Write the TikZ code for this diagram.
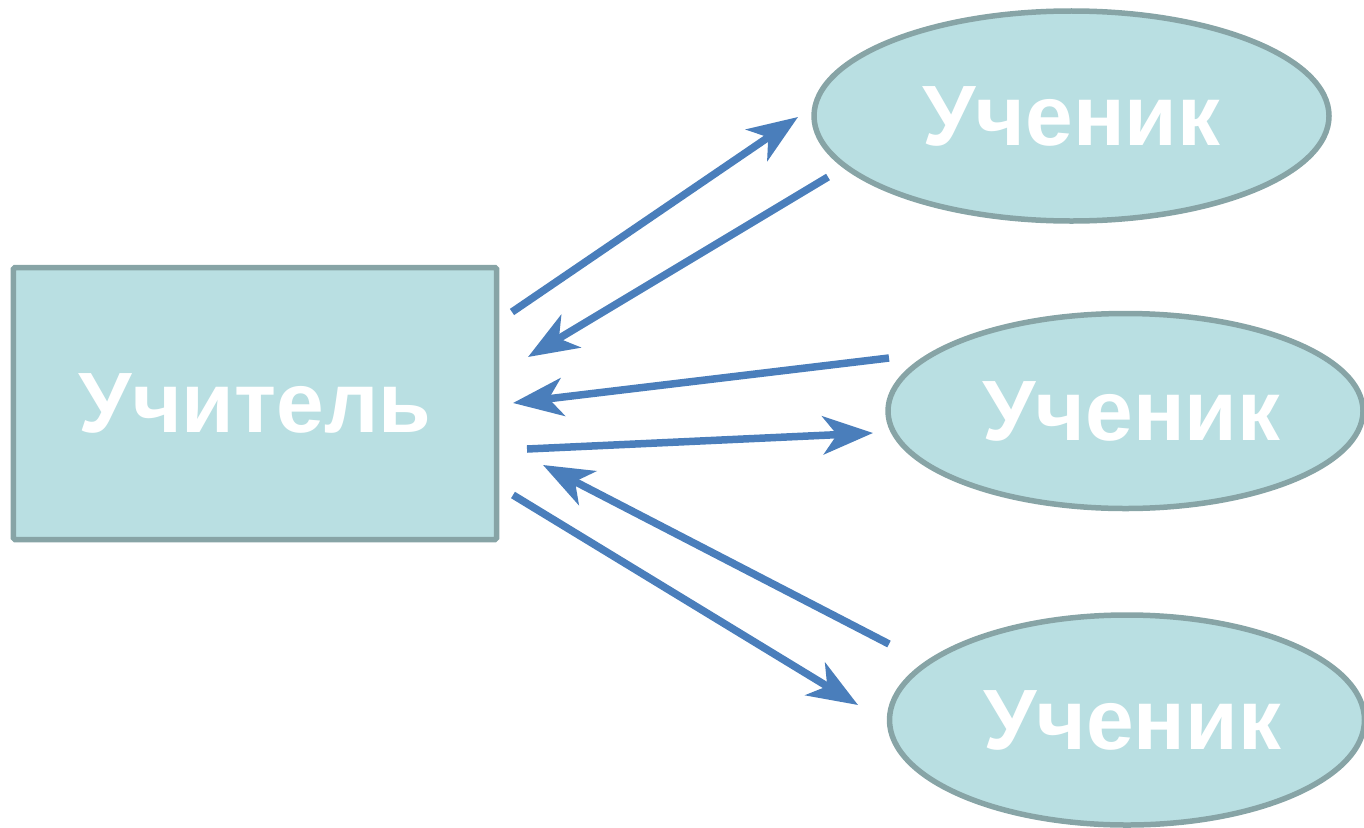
\documentclass[tikz,border=0pt]{standalone}
\usepackage{fontspec}
\setmainfont{Liberation Sans}
\usetikzlibrary{shapes.geometric,arrows.meta}
\definecolor{boxfill}{HTML}{B9DFE2}
\definecolor{boxline}{HTML}{87A4A6}
\definecolor{arrowblue}{HTML}{4A7EBB}
\tikzset{
  box/.style={draw=boxline, fill=boxfill, line width=5.5bp, inner sep=0pt, outer sep=0pt,
    text=white, font=\bfseries\fontsize{86}{86}\selectfont},
  teacher/.style={box, rectangle, minimum width=483bp, minimum height=272bp, rounded corners=1.5bp},
  pupil/.style={box, ellipse},
  link/.style={draw=arrowblue, line width=7.5bp, line cap=butt,
    -{Stealth[length=50bp, width=38bp, inset=14bp]}}
}
\begin{document}
\begin{tikzpicture}[x=1bp, y=-1bp]
\useasboundingbox (0,0) rectangle (1364,827);
\node[teacher] (t) at (255,403.5) {Учитель};
\node[pupil, minimum width=515bp, minimum height=210bp] (p1) at (1071.5,116) {Ученик};
\node[pupil, minimum width=475bp, minimum height=195bp] (p2) at (1125.5,411) {\hspace*{12bp}Ученик};
\node[pupil, minimum width=475bp, minimum height=210bp] (p3) at (1127,720) {\hspace*{10bp}Ученик};
% free ends of the connectors
\coordinate (a1s) at (512,312);  \coordinate (a1e) at (798,117);
\coordinate (a2s) at (828,177);  \coordinate (a2e) at (528,357);
\coordinate (a3s) at (889,358);  \coordinate (a3e) at (513,403);
\coordinate (a4s) at (527,449);  \coordinate (a4e) at (873,433);
\coordinate (a5s) at (889,644);  \coordinate (a5e) at (543,465);
\coordinate (a6s) at (513,495);  \coordinate (a6e) at (858,705);
\draw[link] (a1s) -- (a1e);
\draw[link] (a2s) -- (a2e);
\draw[link] (a3s) -- (a3e);
\draw[link] (a4s) -- (a4e);
\draw[link] (a5s) -- (a5e);
\draw[link] (a6s) -- (a6e);
\end{tikzpicture}
\end{document}
